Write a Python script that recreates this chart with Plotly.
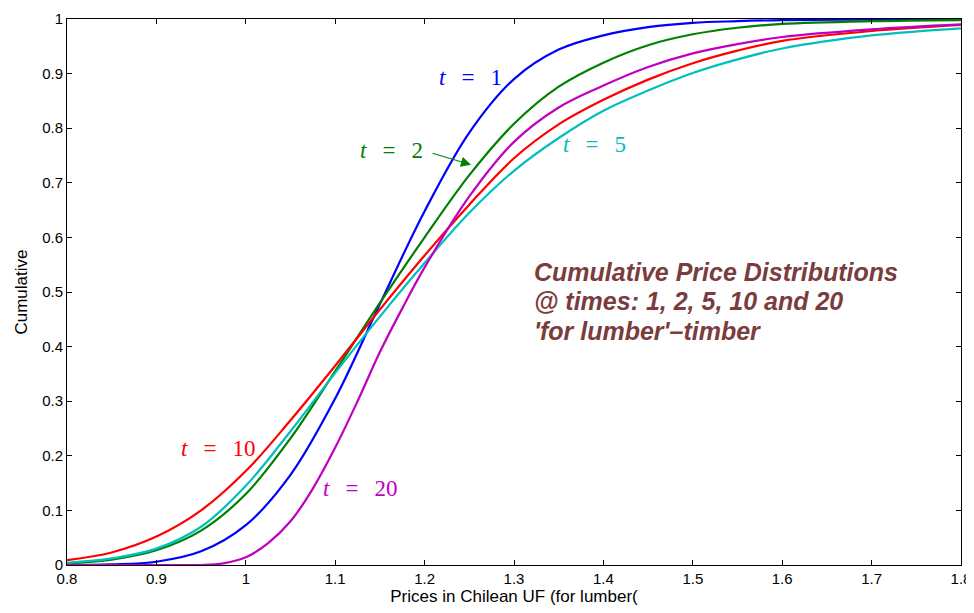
import plotly.graph_objects as go

x_vals = [0.80, 0.85, 0.90, 0.95, 1.00, 1.05, 1.10, 1.15, 1.20, 1.25, 1.30, 1.35, 1.40, 1.45, 1.50, 1.55, 1.60, 1.70, 1.80]

cdf_t1 = [0.000, 0.001, 0.006, 0.025, 0.073, 0.165, 0.305, 0.478, 0.648, 0.792, 0.890, 0.944, 0.970, 0.985, 0.993, 0.996, 0.998, 0.999, 1.000]
cdf_t2 = [0.003, 0.010, 0.027, 0.063, 0.130, 0.232, 0.355, 0.480, 0.600, 0.714, 0.808, 0.876, 0.920, 0.952, 0.972, 0.984, 0.991, 0.996, 0.998]
cdf_t5 = [0.004, 0.012, 0.030, 0.070, 0.145, 0.245, 0.352, 0.455, 0.553, 0.645, 0.722, 0.782, 0.832, 0.869, 0.901, 0.926, 0.946, 0.970, 0.983]
cdf_t10 = [0.009, 0.023, 0.052, 0.100, 0.172, 0.265, 0.365, 0.468, 0.567, 0.660, 0.745, 0.807, 0.852, 0.889, 0.919, 0.942, 0.960, 0.978, 0.989]

x_t20 = [0.80, 0.90, 0.95, 0.975, 1.00, 1.025, 1.05, 1.075, 1.10, 1.125, 1.15, 1.175, 1.20, 1.25, 1.30, 1.35, 1.40, 1.45, 1.50, 1.55, 1.60, 1.70, 1.80]
cdf_t20 = [0.000, 0.000, 0.000, 0.003, 0.014, 0.040, 0.080, 0.140, 0.215, 0.300, 0.390, 0.470, 0.545, 0.675, 0.775, 0.838, 0.878, 0.912, 0.937, 0.954, 0.967, 0.981, 0.990]

series_names = ["t = 1", "t = 2", "t = 5", "t = 10", "t = 20"]
series_colors = ["#0000FF", "#008000", "#00BFBF", "#FF0000", "#BF00BF"]
series_x = [x_vals, x_vals, x_vals, x_vals, x_t20]
series_data = [cdf_t1, cdf_t2, cdf_t5, cdf_t10, cdf_t20]

x_ticks = [0.8, 0.9, 1.0, 1.1, 1.2, 1.3, 1.4, 1.5, 1.6, 1.7, 1.8]
x_tick_labels = ["0.8", "0.9", "1", "1.1", "1.2", "1.3", "1.4", "1.5", "1.6", "1.7", "1.8"]
y_ticks = [0, 0.1, 0.2, 0.3, 0.4, 0.5, 0.6, 0.7, 0.8, 0.9, 1.0]
y_tick_labels = ["0", "0.1", "0.2", "0.3", "0.4", "0.5", "0.6", "0.7", "0.8", "0.9", "1"]

fig = go.Figure()
for name, col, xs, ys in zip(series_names, series_colors, series_x, series_data):
    fig.add_trace(go.Scatter(x=xs, y=ys, mode="lines", name=name,
                             line=dict(color=col, width=2.2, shape="spline", smoothing=1.0)))

serif = "Liberation Serif"
sp = "\u2002\u2009"

def tlabel(num):
    return "<i>t</i>" + sp + "=" + sp + num

labels = [
    (1.251, 0.893, "1", "#0000FF"),
    (1.163, 0.760, "2", "#008000"),
    (1.390, 0.771, "5", "#00BFBF"),
    (0.969, 0.214, "10", "#FF0000"),
    (1.128, 0.141, "20", "#BF00BF"),
]
for lx, ly, num, col in labels:
    fig.add_annotation(x=lx, y=ly, xref="x", yref="y", text=tlabel(num), showarrow=False,
                       font=dict(family=serif, size=23, color=col))

# arrow for t = 2
fig.add_annotation(x=1.252, y=0.733, xref="x", yref="y", text="", showarrow=True,
                   ax=-40, ay=-12, arrowcolor="#008000", arrowwidth=1.2,
                   arrowhead=2, arrowsize=1.7)

title_lines = ["Cumulative Price Distributions", "@ times: 1, 2, 5, 10 and 20", "'for lumber'\u2013timber"]
title_y = [0.536, 0.484, 0.428]
for txt, ty in zip(title_lines, title_y):
    fig.add_annotation(x=1.320, y=ty, xref="x", yref="y", text="<b><i>" + txt + "</i></b>",
                       showarrow=False, xanchor="left",
                       font=dict(family="Liberation Sans", size=25, color="rgb(122,60,60)"))

axis_common = dict(showline=True, linecolor="black", linewidth=1, mirror="ticks",
                   ticks="inside", ticklen=5, tickcolor="black", showgrid=False,
                   zeroline=False, automargin=False,
                   tickfont=dict(family="Liberation Sans", size=15, color="black"))

# page body has an 8px default margin, so the figure is sized/offset to fit the window
fig.update_layout(
    width=966, height=605,
    margin=dict(l=59, r=13, t=11, b=48, autoexpand=False),
    paper_bgcolor="white", plot_bgcolor="white",
    showlegend=False,
    xaxis=dict(range=[0.8, 1.8], tickvals=x_ticks, ticktext=x_tick_labels,
               title=dict(text="Prices in Chilean UF (for lumber(", standoff=2,
                          font=dict(family="Liberation Sans", size=17, color="black")),
               **axis_common),
    yaxis=dict(range=[0, 1], tickvals=y_ticks, ticktext=y_tick_labels,
               title=dict(text="Cumulative", standoff=10,
                          font=dict(family="Liberation Sans", size=17, color="black")),
               **axis_common),
)

fig.write_html("out.html")
